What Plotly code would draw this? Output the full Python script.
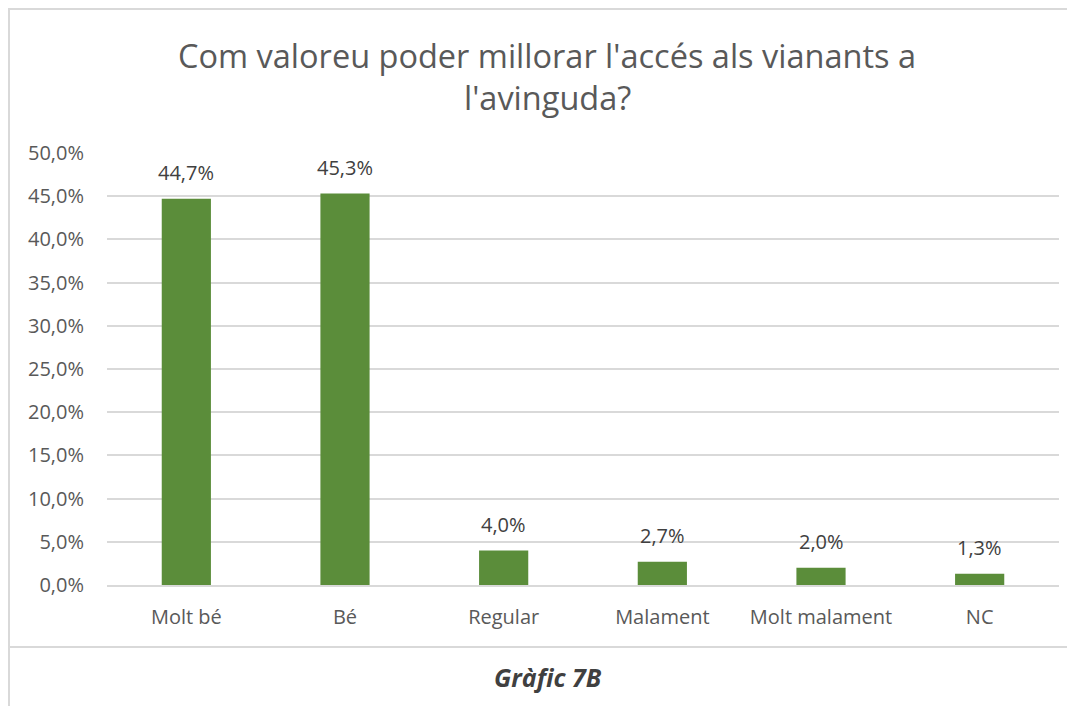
import plotly.graph_objects as go

categories = ["Molt bé", "Bé", "Regular", "Malament", "Molt malament", "NC"]
values = [0.447, 0.453, 0.040, 0.027, 0.020, 0.013]

title_lines = ["Com valoreu poder millorar l'accés als vianants a", "l'avinguda?"]
caption = "Gràfic 7B"

# the page body has an 8px margin, so figure pixel = screenshot pixel - 8
W, H = 1075, 706
L, R, T, B = 99, 1051, 145, 577  # plot area in figure pixels


def px_x(x):
    return (x - L) / (R - L)


def px_y(y):
    return (B - y) / (B - T)


fig = go.Figure(go.Bar(
    x=categories,
    y=values,
    marker=dict(color="#5B8D3A", line=dict(width=0)),
    hoverinfo="x+y",
))

border = dict(color="#D9D9D9", width=2)
shapes = [
    dict(type="line", xref="paper", yref="paper", x0=px_x(0), x1=px_x(W), y0=px_y(1), y1=px_y(1), line=border),
    dict(type="line", xref="paper", yref="paper", x0=px_x(1), x1=px_x(1), y0=px_y(0), y1=px_y(H), line=border),
    dict(type="line", xref="paper", yref="paper", x0=px_x(0), x1=px_x(W), y0=px_y(639), y1=px_y(639), line=border),
]

annotations = [
    dict(text=title_lines[0], xref="paper", yref="paper", x=px_x(539), y=px_y(47), yanchor="middle",
         showarrow=False, font=dict(size=32.5, color="#595959")),
    dict(text=title_lines[1], xref="paper", yref="paper", x=px_x(539), y=px_y(89), yanchor="middle",
         showarrow=False, font=dict(size=32.5, color="#595959")),
    dict(text="<b><i>" + caption + "</i></b>", xref="paper", yref="paper", x=px_x(540), y=px_y(669),
         yanchor="middle", showarrow=False, font=dict(size=25, color="#404040")),
]

# data labels above each bar
for c, v in zip(categories, values):
    annotations.append(dict(
        x=c, y=v, xref="x", yref="y", text=f"{v * 100:.1f}%".replace(".", ","),
        showarrow=False, yanchor="middle", yshift=26,
        font=dict(size=20, color="#404040"),
    ))

fig.update_layout(
    width=W, height=H,
    margin=dict(l=L, r=W - R, t=T, b=H - B, autoexpand=False),
    paper_bgcolor="white",
    plot_bgcolor="white",
    font=dict(family="Open Sans, sans-serif", color="#595959", size=20),
    separators=",.",
    bargap=0.69,
    showlegend=False,
    shapes=shapes,
    annotations=annotations,
    xaxis=dict(
        showgrid=False, showline=True, linecolor="#D9D9D9", linewidth=1.5,
        ticks="", ticklabelstandoff=13, tickfont=dict(size=20, color="#595959"),
    ),
    yaxis=dict(
        range=[0, 0.5], dtick=0.05, tickformat=".1%",
        showgrid=True, gridcolor="#D9D9D9", gridwidth=1.5,
        zeroline=False, showline=False, ticks="", ticklabelstandoff=22,
        tickfont=dict(size=20, color="#595959"),
    ),
)

fig.write_html("out.html")
